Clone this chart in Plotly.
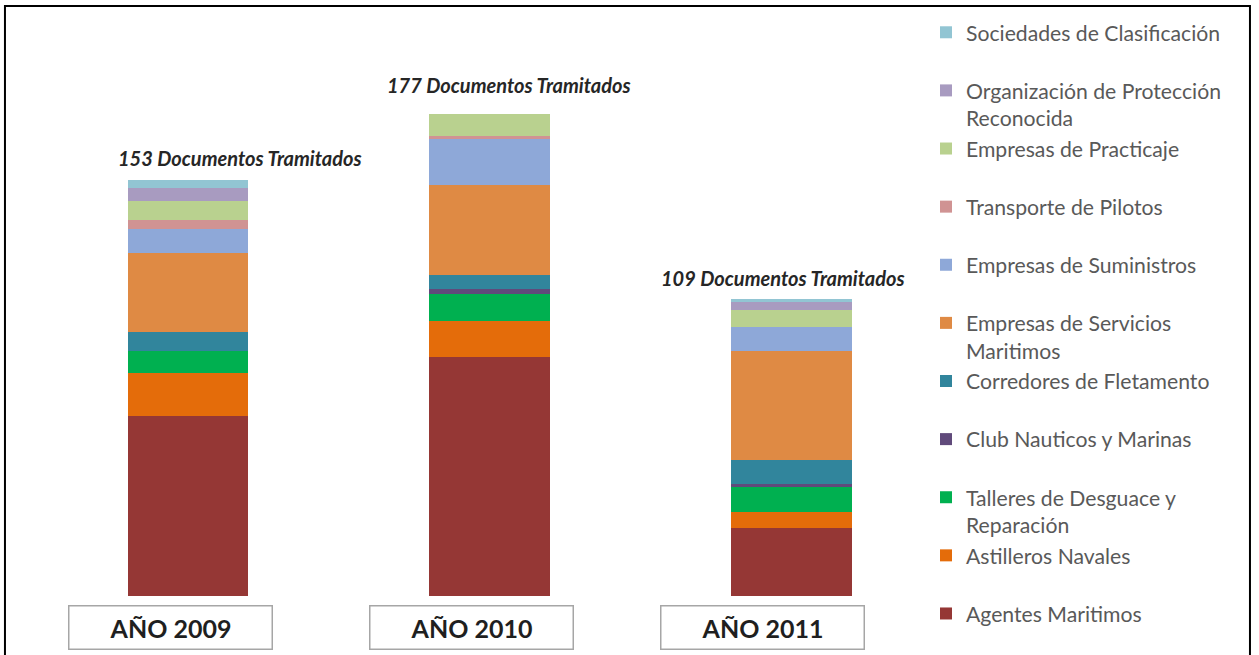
import plotly.graph_objects as go

# ---- data ----
categories = ["AÑO 2009", "AÑO 2010", "AÑO 2011"]
series_names = [
    "Agentes Maritimos",
    "Astilleros Navales",
    "Talleres de Desguace y<br>Reparación",
    "Club Nauticos y Marinas",
    "Corredores de Fletamento",
    "Empresas de Servicios<br>Maritimos",
    "Empresas de Suministros",
    "Transporte de Pilotos",
    "Empresas de Practicaje",
    "Organización de Protección<br>Reconocida",
    "Sociedades de Clasificación",
]
agentes = [66, 88, 25]
astilleros = [16, 13, 6]
talleres = [8, 10, 9]
club = [0, 2, 1]
corredores = [7, 5, 9]
servicios = [29, 33, 40]
suministros = [9, 17, 9]
transporte = [3, 1, 0]
practicaje = [7, 8, 6]
organizacion = [5, 0, 3]
sociedades = [3, 0, 1]

series_values = [agentes, astilleros, talleres, club, corredores, servicios,
                 suministros, transporte, practicaje, organizacion, sociedades]
colors = ["#953735", "#E46C0A", "#00B050", "#604A7B", "#31859C", "#DF8A44",
          "#8EA8D8", "#D09393", "#B9D18F", "#A89BC0", "#92C5D3"]

fig = go.Figure()
for name, vals, col in zip(series_names, series_values, colors):
    label = name if "<br>" in name else name + "<br> "
    fig.add_trace(go.Bar(
        x=categories, y=vals, name=label,
        marker=dict(color=col, line=dict(width=0)),
        width=0.4,
    ))

totals = [sum(v[i] for v in series_values) for i in range(len(categories))]
label_xshift = [52, 19, -8]
label_yshift = [22, 29, 21]
for i, cat in enumerate(categories):
    fig.add_annotation(
        x=cat, y=totals[i], xref="x", yref="y",
        text=f"<b><i>{totals[i]} Documentos Tramitados</i></b>",
        showarrow=False, yanchor="middle", xanchor="center",
        xshift=label_xshift[i], yshift=label_yshift[i],
        font=dict(family="Lato", size=20, color="#262626"),
    )

box_xshift = [-17, -18, -29]
for i, cat in enumerate(categories):
    fig.add_annotation(
        x=cat, y=-0.06, xref="x", yref="paper",
        text=f"<b>{cat}</b>", showarrow=False,
        xanchor="center", yanchor="middle", xshift=box_xshift[i],
        width=202, height=42, borderpad=0,
        bordercolor="#a6a6a6", borderwidth=1.5, bgcolor="white",
        font=dict(family="Lato", size=25, color="#1f1f1f"),
    )

# outer frame
fig.add_shape(type="rect", xref="paper", yref="paper",
              x0=-0.0354, x1=1.3403, y0=-0.3, y1=1.141,
              line=dict(color="black", width=2), fillcolor="rgba(0,0,0,0)",
              layer="above")

fig.update_layout(
    width=1259, height=675,
    margin=dict(l=37, r=317, t=79, b=79),
    barmode="stack",
    plot_bgcolor="white", paper_bgcolor="white",
    showlegend=True,
    legend=dict(
        x=0.9823, y=1.1296, xanchor="left", yanchor="top",
        traceorder="reversed", valign="top", maxheight=900,
        font=dict(family="Lato", size=21.2, color="#595959"),
        bgcolor="rgba(0,0,0,0)",
    ),
    xaxis=dict(range=[-0.5, 2.5], showticklabels=False, showgrid=False,
               zeroline=False, showline=False, ticks=""),
    yaxis=dict(range=[0, 190], visible=False, showgrid=False, zeroline=False),
)

fig.write_html(
    "out.html", config={"displayModeBar": False},
    post_script="document.body.style.margin='0';"
                "document.body.style.overflow='hidden';"
                "document.documentElement.style.overflow='hidden';",
)
